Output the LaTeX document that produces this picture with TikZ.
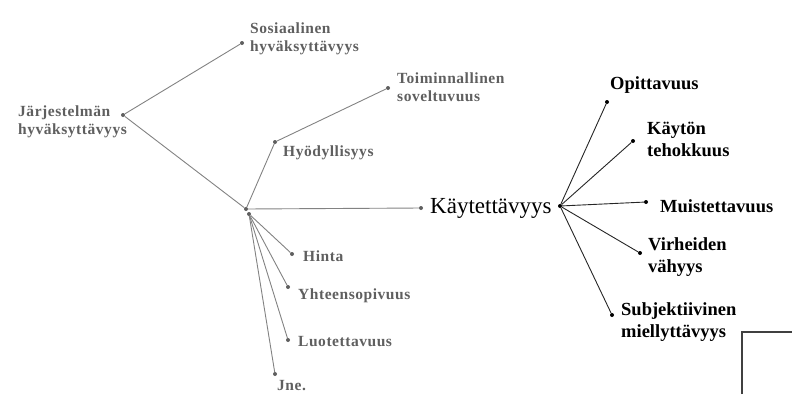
\documentclass[tikz,border=0pt]{standalone}
\usepackage{fontspec}
\setmainfont{Liberation Serif}
\newfontfamily\greyfont[LetterSpace=3.5]{Liberation Serif}
\usetikzlibrary{positioning}

\definecolor{lblgrey}{HTML}{5F5F5F}
\definecolor{linegrey}{HTML}{828282}

\tikzset{
  gdot/.style={circle, fill=lblgrey, inner sep=0pt, minimum size=4pt},
  bdot/.style={circle, fill=black, inner sep=0pt, minimum size=4pt},
  gline/.style={draw=linegrey, line width=0.9pt},
  bline/.style={draw=black!85, line width=0.9pt},
  greylbl/.style={text=lblgrey, font=\greyfont\bfseries\fontsize{15.5}{18}\selectfont, align=left, anchor=west, inner sep=0pt},
  blacklbl/.style={font=\bfseries\fontsize{18.5}{22}\selectfont, align=left, anchor=west, inner sep=0pt},
}

\begin{document}
\begin{tikzpicture}[x=1pt, y=-1pt]
  \useasboundingbox (0,0) rectangle (792,394);

  % left tree
  \node[gdot] (jarj) at (123,115) {};
  \node[gdot] (sos) at (242,43) {};
  \node[gdot] (toim) at (388,88) {};
  \node[gdot] (hyod) at (275,142) {};
  \node[gdot] (hub) at (246,209) {};
  \node[gdot] (hubb) at (249,214) {};
  \node[gdot] (kayt) at (421,208) {};
  \node[gdot] (hinta) at (292,254) {};
  \node[gdot] (yhte) at (288,287) {};
  \node[gdot] (luot) at (288,340) {};
  \node[gdot] (jne) at (275,374) {};

  \draw[gline] (jarj) -- (sos);
  \draw[gline] (jarj) -- (hub);
  \draw[gline] (hub) -- (hyod) -- (toim);
  \draw[gline] (hub) -- (kayt);
  \draw[gline] (hubb) -- (hinta);
  \draw[gline] (hubb) -- (yhte);
  \draw[gline] (hubb) -- (luot);
  \draw[gline] (hubb) -- (jne);

  \node[greylbl] (jarjlbl) at (18,122) {Järjestelmän\\hyväksyttävyys};
  \node[greylbl] (soslbl) at (250,39) {Sosiaalinen\\hyväksyttävyys};
  \node[greylbl] (toimlbl) at (397,87) {Toiminnallinen\\soveltuvuus};
  \node[greylbl] (hyodlbl) at (283,153) {Hyödyllisyys};
  \node[greylbl] (hintalbl) at (303,256) {Hinta};
  \node[greylbl] (yhtelbl) at (298,296) {Yhteensopivuus};
  \node[greylbl] (luotlbl) at (298,342) {Luotettavuus};
  \node[greylbl] (jnelbl) at (277,386) {Jne.};

  % right tree
  \node[font=\fontsize{23}{26}\selectfont, anchor=west, inner sep=0pt] (kaytlbl) at (430,208) {Käytettävyys};
  \node[bdot] (rhub) at (560,206) {};
  \node[bdot] (opit) at (607,102) {};
  \node[bdot] (teho) at (633,141) {};
  \node[bdot] (muis) at (646,202) {};
  \node[bdot] (virh) at (640,253) {};
  \node[bdot] (subj) at (612,315) {};

  \foreach \n in {opit, teho, muis, virh, subj}
    \draw[bline] (rhub) -- (\n);

  \node[blacklbl] (opitlbl) at (610,85) {Opittavuus};
  \node[blacklbl] (teholbl) at (647,139) {Käytön\\tehokkuus};
  \node[blacklbl] (muislbl) at (660,206) {Muistettavuus};
  \node[blacklbl] (virhlbl) at (648,257) {Virheiden\\vähyys};
  \node[blacklbl] (subjlbl) at (621,322) {Subjektiivinen\\miellyttävyys};

  % corner of the box
  \draw[draw=black!75, line width=1.2pt] (742,394) -- (742,332) -- (792,332);
\end{tikzpicture}
\end{document}
